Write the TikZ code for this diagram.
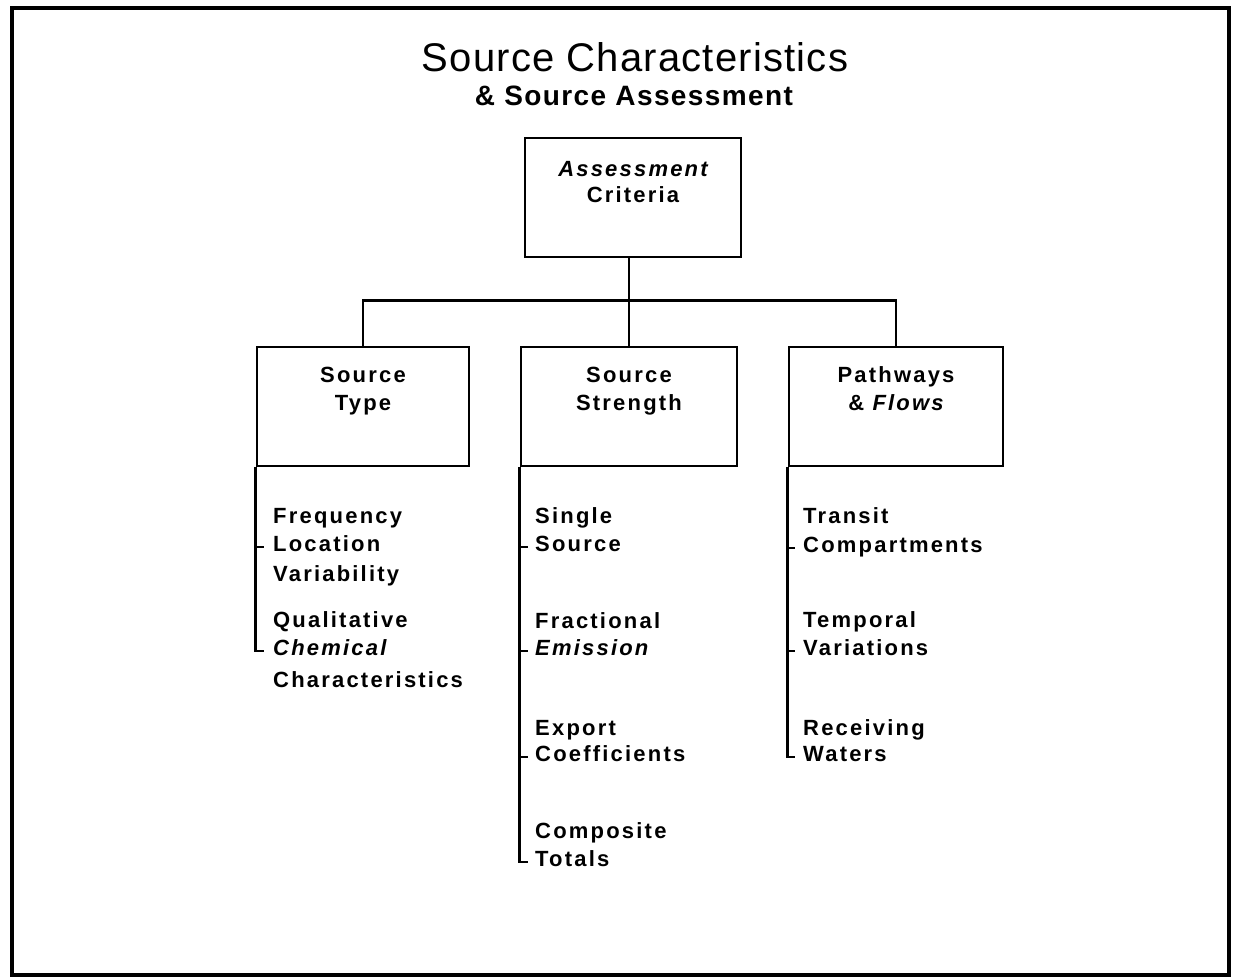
\documentclass[tikz,border=0pt]{standalone}
\usepackage{fontspec}
\setmainfont{Liberation Sans}
\newfontfamily\itemfont[LetterSpace=10]{Liberation Sans}
\newfontfamily\ttlfont[LetterSpace=3]{Liberation Sans}
\newfontfamily\subfont[LetterSpace=5]{Liberation Sans}
\usetikzlibrary{calc}
\begin{document}
\begin{tikzpicture}[x=1pt,y=-1pt,
  box/.style={draw,line width=2.8pt,inner sep=0pt,minimum height=119pt},
  tree/.style={line width=2.5pt},
  lbl/.style={inner sep=0pt,anchor=base,font=\itemfont\bfseries\fontsize{22}{26}\selectfont},
  itm/.style={inner sep=0pt,anchor=base west,font=\itemfont\bfseries\fontsize{22}{26}\selectfont}]
\useasboundingbox (0,0) rectangle (1233,979);
\draw[line width=3.5pt] (12,8) rectangle (1229,975);

% titles
\node[inner sep=0pt,anchor=base,font=\ttlfont\fontsize{40}{48}\selectfont] (title) at (635,72) {Source Characteristics};
\node[inner sep=0pt,anchor=base,font=\subfont\bfseries\fontsize{28}{32}\selectfont] (subtitle) at (634,106) {\& Source Assessment};

% boxes
\node[box,minimum width=216pt] (top) at (633,197.5) {};
\node[box,minimum width=212pt] (lt) at (363,406.5) {};
\node[box,minimum width=216pt] (mid) at (629,406.5) {};
\node[box,minimum width=214pt] (rt) at (896,406.5) {};

% box labels
\node[lbl] (topA) at (633,176) {\itshape Assessment};
\node[lbl] (topB) at (633,202) {Criteria};
\node[lbl] (ltA) at (363,382) {Source};
\node[lbl] (ltB) at (363,410) {Type};
\node[lbl] (midA) at (629,382) {Source};
\node[lbl] (midB) at (629,410) {Strength};
\node[lbl] (rtA) at (896,382) {Pathways};
\node[lbl] (rtB) at (896,410) {\& \itshape Flows};

% tree connectors
\draw[tree] (top.south -| mid.north) -- (mid.north);
\draw[tree] (lt.north) -- ++(0,-45) -| (rt.north);

% left column items
\node[itm] (a1) at (273,523) {Frequency};
\node[itm] (a2) at (273,551) {Location};
\node[itm] (a3) at (273,581) {Variability};
\node[itm] (a4) at (273,627) {Qualitative};
\node[itm] (a5) at (273,655) {\itshape Chemical};
\node[itm] (a6) at (273,687) {Characteristics};

% middle column items
\node[itm] (b1) at (535,523) {Single};
\node[itm] (b2) at (535,551) {Source};
\node[itm] (b3) at (535,628) {Fractional};
\node[itm] (b4) at (535,655) {\itshape Emission};
\node[itm] (b5) at (535,735) {Export};
\node[itm] (b6) at (535,761) {Coefficients};
\node[itm] (b7) at (535,838) {Composite};
\node[itm] (b8) at (535,866) {Totals};

% right column items
\node[itm] (c1) at (803,523) {Transit};
\node[itm] (c2) at (803,552) {Compartments};
\node[itm] (c3) at (803,627) {Temporal};
\node[itm] (c4) at (803,655) {Variations};
\node[itm] (c5) at (803,735) {Receiving};
\node[itm] (c6) at (803,761) {Waters};

% tick points
\path ($(a2.base west)+(-9,-4)$) coordinate (ka2);
\path ($(a5.base west)+(-9,-4)$) coordinate (ka5);
\path ($(b2.base west)+(-7,-4)$) coordinate (kb2);
\path ($(b4.base west)+(-7,-4)$) coordinate (kb4);
\path ($(b6.base west)+(-7,-4)$) coordinate (kb6);
\path ($(b8.base west)+(-7,-4)$) coordinate (kb8);
\path ($(c2.base west)+(-8,-4)$) coordinate (kc2);
\path ($(c4.base west)+(-8,-4)$) coordinate (kc4);
\path ($(c6.base west)+(-8,-4)$) coordinate (kc6);

% spines
\draw[tree] (lt.south west) |- (ka5);
\draw[tree] (lt.south west |- ka2) -- (ka2);
\draw[tree] (mid.south west) |- (kb8);
\draw[tree] (mid.south west |- kb2) -- (kb2);
\draw[tree] (mid.south west |- kb4) -- (kb4);
\draw[tree] (mid.south west |- kb6) -- (kb6);
\draw[tree] (rt.south west) |- (kc6);
\draw[tree] (rt.south west |- kc2) -- (kc2);
\draw[tree] (rt.south west |- kc4) -- (kc4);
\end{tikzpicture}
\end{document}
